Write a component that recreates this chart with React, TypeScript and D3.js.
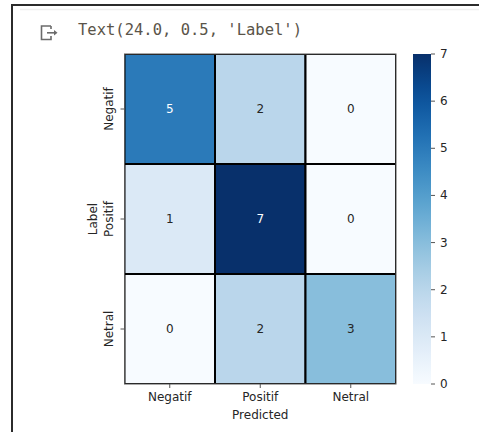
import React from "react";
import * as d3 from "d3";

const rowLabels = ["Negatif", "Positif", "Netral"];
const colLabels = ["Negatif", "Positif", "Netral"];
const matrix = [
  [5, 2, 0],
  [1, 7, 0],
  [0, 2, 3],
];
const cbTicks = [0, 1, 2, 3, 4, 5, 6, 7];
const xTitle = "Predicted";
const yTitle = "Label";
const outputText = "Text(24.0, 0.5, 'Label')";

export default function App() {
  const W = 479, H = 432;
  const left = 124.5, right = 396, top = 54, bottom = 384;
  const x = d3.scaleBand<string>().domain(colLabels).range([left, right]);
  const y = d3.scaleBand<string>().domain(rowLabels).range([top, bottom]);
  const color = d3.scaleSequential(d3.interpolateBlues).domain([0, 7]);
  const cbX = 413, cbW = 18;
  const cbY = d3.scaleLinear().domain([0, 7]).range([bottom, top]);
  const stops = d3.range(0, 1.0001, 0.05);
  const font = "'DejaVu Sans', sans-serif";
  const tickColor = "#262626";

  const cells: any[] = [];
  matrix.forEach((row, i) =>
    row.forEach((v, j) => cells.push({ r: rowLabels[i], c: colLabels[j], v }))
  );

  return (
    <svg width={W} height={H} style={{ position: "absolute", left: 0, top: 0 }} fontFamily={font}>
      <rect x={0} y={0} width={W} height={H} fill="#fff" />
      {/* notebook frame */}
      <line x1={12} y1={5} x2={W} y2={5} stroke="#2b2b2b" strokeWidth={2} />
      <line x1={12} y1={4} x2={12} y2={H} stroke="#2b2b2b" strokeWidth={2} />
      <line x1={20} y1={9.5} x2={W} y2={9.5} stroke="#efefef" strokeWidth={1.5} />
      {/* output icon */}
      <g fill="none" stroke="#6b6b6b" strokeWidth={1.6}>
        <path d="M51,26 H41.5 V39.5 H51 V36" />
        <path d="M51,26 V29" />
        <path d="M47,32.8 H56" />
      </g>
      <path d="M54,30 L57.5,32.8 L54,35.6 Z" fill="#6b6b6b" />
      <text x={78} y={35} fontFamily="'DejaVu Sans Mono', monospace" fontSize={15} fill="#5a5449" textLength={224} lengthAdjust="spacingAndGlyphs">
        {outputText}
      </text>

      <defs>
        <clipPath id="hmclip">
          <rect x={left} y={top} width={right - left} height={bottom - top} />
        </clipPath>
        <linearGradient id="cbgrad" x1="0" y1="1" x2="0" y2="0">
          {stops.map((t) => (
            <stop key={t} offset={t} stopColor={color(t * 7)} />
          ))}
        </linearGradient>
      </defs>

      <g clipPath="url(#hmclip)">
        {cells.map((d, k) => (
          <rect key={k} x={x(d.c)} y={y(d.r)} width={x.bandwidth()} height={y.bandwidth()}
            fill={color(d.v)} stroke="#000" strokeWidth={2} />
        ))}
      </g>
      <rect x={left} y={top} width={right - left} height={bottom - top} fill="none" stroke="#555" strokeWidth={1} />
      {cells.map((d, k) => (
        <text key={"t" + k} x={x(d.c)! + x.bandwidth() / 2} y={y(d.r)! + y.bandwidth() / 2}
          textAnchor="middle" dominantBaseline="central" fontSize={12}
          fill={d.v >= 4 ? "#ffffff" : "#262626"}>
          {d.v}
        </text>
      ))}

      {/* x axis */}
      {colLabels.map((c) => {
        const cx = x(c)! + x.bandwidth() / 2;
        return (
          <g key={"x" + c}>
            <line x1={cx} x2={cx} y1={bottom} y2={bottom + 4} stroke="#555" strokeWidth={1} />
            <text x={cx} y={401} textAnchor="middle" fontSize={12} fill={tickColor}>{c}</text>
          </g>
        );
      })}
      <text x={(left + right) / 2} y={419} textAnchor="middle" fontSize={12} fill={tickColor}>{xTitle}</text>

      {/* y axis */}
      {rowLabels.map((r) => {
        const cy = y(r)! + y.bandwidth() / 2;
        return (
          <g key={"y" + r}>
            <line x1={left - 4} x2={left} y1={cy} y2={cy} stroke="#555" strokeWidth={1} />
            <text transform={`translate(${113},${cy}) rotate(-90)`} textAnchor="middle" fontSize={12} fill={tickColor}>{r}</text>
          </g>
        );
      })}
      <text transform={`translate(${96.5},${(top + bottom) / 2}) rotate(-90)`} textAnchor="middle" fontSize={12} fill={tickColor}>{yTitle}</text>

      {/* colorbar */}
      <rect x={cbX} y={top} width={cbW} height={bottom - top} fill="url(#cbgrad)" />
      {cbTicks.map((t) => (
        <g key={"cb" + t}>
          <line x1={cbX + cbW} x2={cbX + cbW + 4} y1={cbY(t)} y2={cbY(t)} stroke="#555" strokeWidth={1} />
          <text x={cbX + cbW + 9} y={cbY(t)} dominantBaseline="central" fontSize={12} fill={tickColor}>{t}</text>
        </g>
      ))}
    </svg>
  );
}
